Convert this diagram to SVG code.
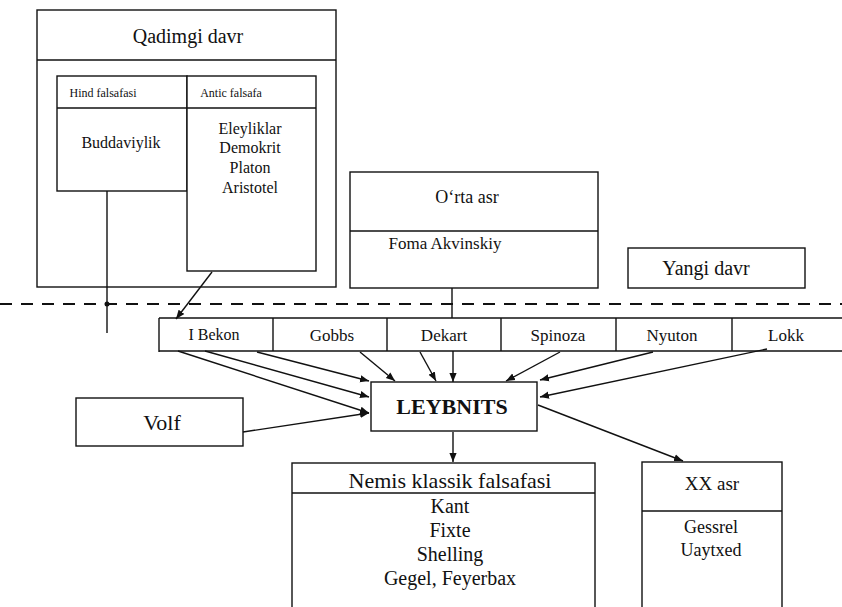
<svg xmlns="http://www.w3.org/2000/svg" width="842" height="607" viewBox="0 0 842 607">
<defs>
<marker id="ah" viewBox="0 0 10 10" refX="10" refY="5" markerWidth="9" markerHeight="9" markerUnits="userSpaceOnUse" orient="auto">
<path d="M0,1 L10,5 L0,9 Z" fill="#111"/>
</marker>
</defs>
<style>
.b{fill:#fff;stroke:#111;stroke-width:1.4}
.l{fill:none;stroke:#111;stroke-width:1.4}
.c{fill:none;stroke:#111;stroke-width:1.4;marker-end:url(#ah)}
.d{fill:none;stroke:#111;stroke-width:1.8;stroke-dasharray:12 9}
text{font-family:"Liberation Serif","Times New Roman",serif;fill:#111;text-anchor:middle}
.t22{font-size:22px}
.t20{font-size:20px}
.t19{font-size:19px}
.t18{font-size:18px}
.t17{font-size:17px}
.t16{font-size:16px}
.t12{font-size:12px}
</style>
<rect width="842" height="607" fill="#fff"/>

<g id="separator">
<line class="d" x1="0" y1="304" x2="842" y2="304"/>
</g>

<g id="qadimgi">
<rect class="b" x="37" y="10" width="299" height="277"/>
<line class="l" x1="37" y1="60" x2="336" y2="60"/>
<text class="t20" x="188" y="43">Qadimgi davr</text>
</g>

<g id="hind">
<rect class="b" x="57" y="76" width="130" height="115"/>
<line class="l" x1="57" y1="108" x2="187" y2="108"/>
<text class="t12" x="103" y="97">Hind falsafasi</text>
<text class="t16" x="121" y="148">Buddaviylik</text>
</g>

<g id="antic">
<rect class="b" x="187" y="76" width="129" height="195"/>
<line class="l" x1="187" y1="108" x2="316" y2="108"/>
<text class="t12" x="231" y="97">Antic falsafa</text>
<text class="t16" x="250" y="134">Eleyliklar</text>
<text class="t16" x="250" y="153">Demokrit</text>
<text class="t16" x="250" y="173">Platon</text>
<text class="t16" x="250" y="193">Aristotel</text>
</g>

<g id="orta">
<rect class="b" x="350" y="172" width="248" height="116"/>
<line class="l" x1="350" y1="231" x2="598" y2="231"/>
<text class="t18" x="467" y="203">O‘rta asr</text>
<text class="t17" x="445" y="249">Foma Akvinskiy</text>
</g>

<g id="yangi">
<rect class="b" x="628" y="248" width="177" height="40"/>
<text class="t20" x="706" y="275">Yangi davr</text>
</g>

<g id="philosophers">
<line class="l" x1="159" y1="318" x2="842" y2="318"/>
<line class="l" x1="159" y1="351" x2="842" y2="351"/>
<line class="l" x1="159" y1="318" x2="159" y2="352"/>
<line class="l" x1="273" y1="318" x2="273" y2="351"/>
<line class="l" x1="387" y1="318" x2="387" y2="351"/>
<line class="l" x1="501" y1="318" x2="501" y2="351"/>
<line class="l" x1="616" y1="318" x2="616" y2="351"/>
<line class="l" x1="732" y1="318" x2="732" y2="351"/>
</g>
<g id="bekon"><text class="t16" x="214" y="340">I Bekon</text></g>
<g id="gobbs"><text class="t17" x="332" y="341">Gobbs</text></g>
<g id="dekart"><text class="t17" x="444" y="341">Dekart</text></g>
<g id="spinoza"><text class="t17" x="558" y="341">Spinoza</text></g>
<g id="nyuton"><text class="t17" x="672" y="341">Nyuton</text></g>
<g id="lokk"><text class="t17" x="786" y="341">Lokk</text></g>

<g id="leybnits">
<rect class="b" x="371" y="382" width="166" height="49"/>
<text class="t22" x="452" y="414" font-weight="bold">LEYBNITS</text>
</g>

<g id="volf">
<rect class="b" x="76" y="398" width="167" height="48"/>
<text class="t22" x="162" y="430">Volf</text>
</g>

<g id="nemis">
<rect class="b" x="292" y="463" width="303" height="150"/>
<line class="l" x1="292" y1="493" x2="595" y2="493"/>
<text class="t22" x="450" y="488">Nemis klassik falsafasi</text>
<text class="t20" x="450" y="513">Kant</text>
<text class="t20" x="450" y="537">Fixte</text>
<text class="t20" x="450" y="561">Shelling</text>
<text class="t20" x="450" y="585">Gegel, Feyerbax</text>
</g>

<g id="xxasr">
<rect class="b" x="642" y="462" width="140" height="150"/>
<line class="l" x1="642" y1="511" x2="782" y2="511"/>
<text class="t19" x="712" y="490">XX asr</text>
<text class="t18" x="711" y="533">Gessrel</text>
<text class="t18" x="711" y="556">Uaytxed</text>
</g>

<g id="connectors">
<line class="l" x1="107" y1="191" x2="107" y2="333"/>
<circle cx="107" cy="304" r="2.5" fill="#111"/>
<line class="c" x1="212" y1="272" x2="176" y2="319"/>
<line class="l" x1="452" y1="288" x2="452" y2="318"/>
<line class="c" x1="453" y1="351" x2="453" y2="382"/>
<line class="c" x1="257" y1="352" x2="369" y2="381"/>
<line class="c" x1="205" y1="351" x2="369" y2="397"/>
<line class="c" x1="178" y1="351" x2="369" y2="413"/>
<line class="c" x1="360" y1="352" x2="395" y2="381"/>
<line class="c" x1="420" y1="352" x2="436" y2="381"/>
<line class="c" x1="560" y1="352" x2="506" y2="381"/>
<line class="c" x1="653" y1="352" x2="540" y2="380"/>
<line class="c" x1="767" y1="349" x2="540" y2="397"/>
<line class="c" x1="243" y1="432" x2="369" y2="413"/>
<line class="c" x1="453" y1="432" x2="453" y2="462"/>
<line class="c" x1="538" y1="405" x2="683" y2="461"/>
</g>
</svg>
